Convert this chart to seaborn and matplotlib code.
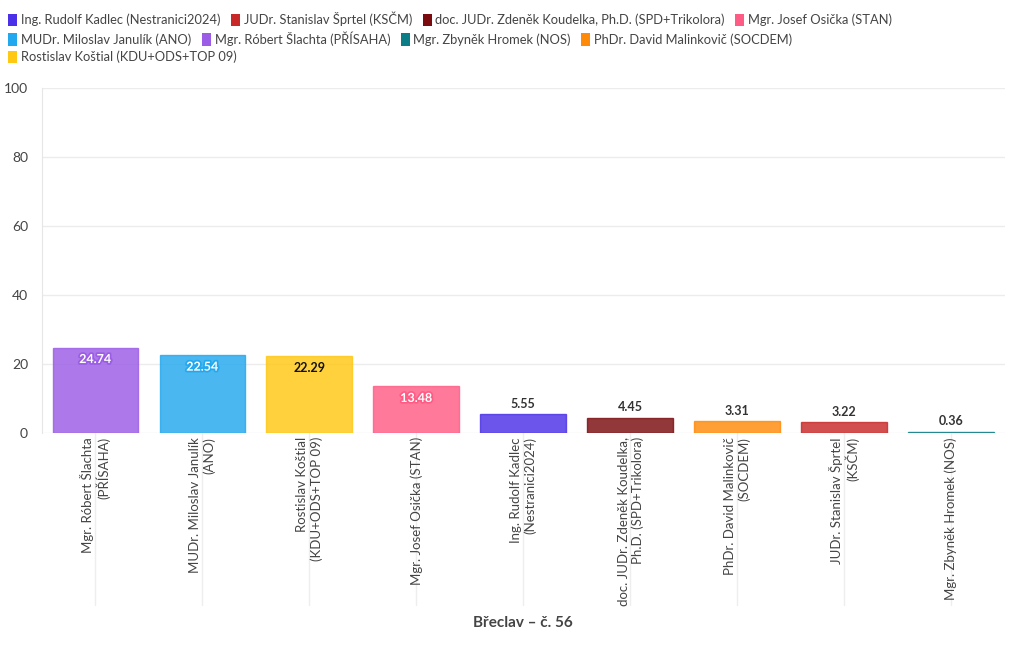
import matplotlib
matplotlib.use("Agg")
import matplotlib.pyplot as plt
import matplotlib.patheffects as pe
from matplotlib.patches import Patch
import seaborn as sns
import pandas as pd

# bar order (sorted by result)
candidates = [
    "Mgr. Róbert Šlachta (PŘÍSAHA)",
    "MUDr. Miloslav Janulík (ANO)",
    "Rostislav Koštial (KDU+ODS+TOP 09)",
    "Mgr. Josef Osička (STAN)",
    "Ing. Rudolf Kadlec (Nestranici2024)",
    "doc. JUDr. Zdeněk Koudelka, Ph.D. (SPD+Trikolora)",
    "PhDr. David Malinkovič (SOCDEM)",
    "JUDr. Stanislav Šprtel (KSČM)",
    "Mgr. Zbyněk Hromek (NOS)",
]
tick_labels = [
    "Mgr. Róbert Šlachta\n(PŘÍSAHA)",
    "MUDr. Miloslav Janulík\n(ANO)",
    "Rostislav Koštial\n(KDU+ODS+TOP 09)",
    "Mgr. Josef Osička (STAN)",
    "Ing. Rudolf Kadlec\n(Nestranici2024)",
    "doc. JUDr. Zdeněk Koudelka,\nPh.D. (SPD+Trikolora)",
    "PhDr. David Malinkovič\n(SOCDEM)",
    "JUDr. Stanislav Šprtel\n(KSČM)",
    "Mgr. Zbyněk Hromek (NOS)",
]
percent = [24.74, 22.54, 22.29, 13.48, 5.55, 4.45, 3.31, 3.22, 0.36]
colors = ["#9b5ce6", "#22a8ee", "#ffc812", "#ff5c85", "#4a30e6",
          "#7a0c10", "#ff8a0a", "#c82828", "#0a7d87"]

# legend order
legend_order = [
    ["Ing. Rudolf Kadlec (Nestranici2024)", "JUDr. Stanislav Šprtel (KSČM)",
     "doc. JUDr. Zdeněk Koudelka, Ph.D. (SPD+Trikolora)", "Mgr. Josef Osička (STAN)"],
    ["MUDr. Miloslav Janulík (ANO)", "Mgr. Róbert Šlachta (PŘÍSAHA)",
     "Mgr. Zbyněk Hromek (NOS)", "PhDr. David Malinkovič (SOCDEM)"],
    ["Rostislav Koštial (KDU+ODS+TOP 09)"],
]

df = pd.DataFrame({"candidate": candidates, "percent": percent})
palette = dict(zip(candidates, colors))

sns.set_style("white")
plt.rcParams["font.family"] = ["Lato", "DejaVu Sans"]

fig = plt.figure(figsize=(10.2, 6.5), dpi=100)
ax = fig.add_axes([0.041, 0.334, 0.944, 0.531])

sns.barplot(data=df, x="candidate", y="percent", hue="candidate",
            palette=palette, order=candidates, width=0.8, alpha=0.82,
            saturation=1, legend=False, ax=ax)
for p in ax.patches:
    p.set_zorder(3)
    p.set_edgecolor(p.get_facecolor())
    p.set_linewidth(1)

ax.set_ylim(0, 100)
ax.set_xlim(-0.5, len(candidates) - 0.5)
ax.set_yticks([0, 20, 40, 60, 80, 100])
ax.set_axisbelow(True)
ax.grid(axis="y", color="#ececec", linewidth=1)
for s in ["top", "right", "bottom"]:
    ax.spines[s].set_visible(False)
ax.spines["left"].set_color("#e6e6e6")

ax.tick_params(axis="y", length=0, pad=10, labelsize=10, labelcolor="#444444")
ax.set_xticks(range(len(candidates)))
ax.set_xticklabels(tick_labels, rotation=90, ha="center", va="top",
                   multialignment="right", fontsize=9.5, color="#444444")
ax.tick_params(axis="x", length=0, pad=3)
ax.set_ylabel("")
ax.set_xlabel("Břeclav – č. 56", fontsize=11, fontweight="bold",
              color="#444444")
ax.xaxis.set_label_coords(0.5, -0.53)

# vertical guide lines in label area
for i in range(len(candidates)):
    ax.plot([i, i], [0, -0.5], transform=ax.get_xaxis_transform(),
            color="#eeeeee", linewidth=1, clip_on=False, zorder=0)

# value labels
for i, (v, c) in enumerate(zip(percent, colors)):
    if v > 10:
        txtcolor = "#111111" if c == "#ffc812" else "white"
        t = ax.annotate(f"{v:.2f}", (i, v), xytext=(0, -4), textcoords="offset points",
                        ha="center", va="top", fontsize=9, fontweight="bold",
                        color=txtcolor, zorder=4)
        if txtcolor == "white":
            t.set_path_effects([pe.withStroke(linewidth=2.5, foreground=c)])
    else:
        ax.annotate(f"{v:.2f}", (i, v), xytext=(0, 3), textcoords="offset points",
                    ha="center", va="bottom", fontsize=9, fontweight="bold",
                    color="#333333", zorder=4)

# flowing legend, one row at a time
row_y = [0.982, 0.952, 0.922]
for row, y in zip(legend_order, row_y):
    handles = [Patch(facecolor=palette[n], edgecolor="none", label=n) for n in row]
    fig.legend(handles=handles, loc="upper left", bbox_to_anchor=(0.008, y),
               ncol=len(row), frameon=False, fontsize=9.3, handlelength=0.7,
               handleheight=1.1, handletextpad=0.3, columnspacing=0.8,
               borderaxespad=0, borderpad=0.0, labelcolor="#444444")

fig.savefig("out.png", dpi=100, facecolor="white")
